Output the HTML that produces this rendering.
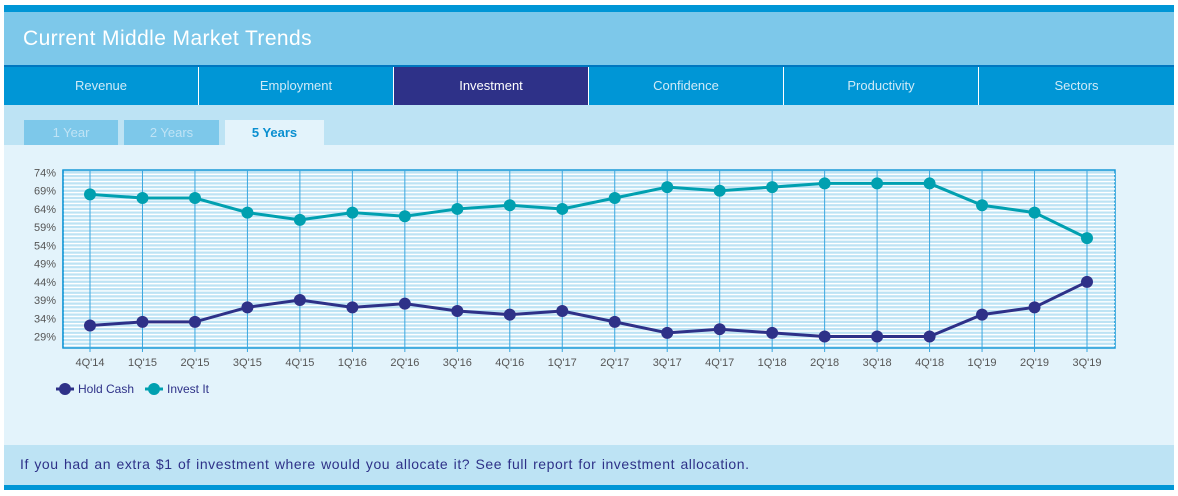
<!DOCTYPE html>
<html><head><meta charset="utf-8"><style>
body{margin:0;width:1178px;height:496px;background:#fff;font-family:"Liberation Sans",sans-serif;position:relative;overflow:hidden}
.abs{position:absolute}
.tab{position:absolute;top:67px;height:38px;line-height:38px;text-align:center;color:#cfeaf7;font-size:13px;background:#0096d6;border-right:1px solid #fff;box-sizing:border-box}
.sub{position:absolute;top:120px;height:25px;line-height:25px;text-align:center;font-size:13px;color:#bfe3f5;background:#7dc8ea}
</style></head><body>
<div class="abs" style="left:4px;top:5px;width:1170px;height:7px;background:#0096d6"></div>
<div class="abs" style="left:4px;top:12px;width:1170px;height:53px;background:#7dc8ea"></div>
<div class="abs" style="left:23px;top:27px;color:#fff;font-size:21px;letter-spacing:0.4px">Current Middle Market Trends</div>
<div class="abs" style="left:4px;top:65px;width:1170px;height:3px;background:#0077c0"></div>
<div class="tab" style="left:4px;width:195px">Revenue</div>
<div class="tab" style="left:199px;width:195px">Employment</div>
<div class="tab" style="left:394px;width:195px;background:#2e3188;color:#fff">Investment</div>
<div class="tab" style="left:589px;width:195px">Confidence</div>
<div class="tab" style="left:784px;width:195px">Productivity</div>
<div class="tab" style="left:979px;width:195px;border-right:none">Sectors</div>
<div class="abs" style="left:4px;top:105px;width:1170px;height:40px;background:#bde3f4"></div>
<div class="sub" style="left:24px;width:94px">1 Year</div>
<div class="sub" style="left:124px;width:95px">2 Years</div>
<div class="sub" style="left:225px;width:99px;background:#e3f3fb;color:#0a8fd0;font-weight:bold">5 Years</div>
<div class="abs" style="left:4px;top:145px;width:1170px;height:300px;background:#e3f3fb"></div>
<svg class="abs" style="left:0;top:0" width="1178" height="496" id="chart"></svg>
<div class="abs" style="left:4px;top:445px;width:1170px;height:40px;background:#bde3f4"></div>
<div class="abs" style="left:20px;top:456px;color:#2e3188;font-size:14px;letter-spacing:0.55px;word-spacing:1px">If you had an extra $1 of investment where would you allocate it? See full report for investment allocation.</div>
<div class="abs" style="left:4px;top:485px;width:1170px;height:5px;background:#0096d6"></div>
<script>
const categories=["4Q'14","1Q'15","2Q'15","3Q'15","4Q'15","1Q'16","2Q'16","3Q'16","4Q'16","1Q'17","2Q'17","3Q'17","4Q'17","1Q'18","2Q'18","3Q'18","4Q'18","1Q'19","2Q'19","3Q'19"];
const investIt=[68,67,67,63,61,63,62,64,65,64,67,70,69,70,71,71,71,65,63,56];
const holdCash=[32,33,33,37,39,37,38,36,35,36,33,30,31,30,29,29,29,35,37,44];
const yTicks=[74,69,64,59,54,49,44,39,34,29];
const NS="http://www.w3.org/2000/svg";
const svg=document.getElementById('chart');
const L=63,R=1115,T=170,B=348;
const x=i=>90+i*(1087-90)/(categories.length-1);
const y=v=>172.5+(74-v)*3.644;
function mk(t,a,p){const e=document.createElementNS(NS,t);for(const k in a)e.setAttribute(k,a[k]);(p||svg).appendChild(e);return e;}
const bg=mk('rect',{x:L,y:T,width:R-L,height:B-T,fill:'#bde3f4',stroke:'#1a9ad8','stroke-width':1.5});


for(let v=25;v<=75;v+=1){const yy=y(v)+1.8;if(yy>T+1&&yy<B-1)mk('line',{x1:L,x2:R,y1:yy,y2:yy,stroke:'#fff','stroke-width':1.4});}
categories.forEach((c,i)=>{
 const g=mk('line',{x1:x(i),x2:x(i),y1:T,y2:B+4,stroke:'#3aa7e0','stroke-width':1});
 
 
 const t=mk('text',{x:x(i),y:366,'text-anchor':'middle','font-size':11,fill:'#555'});t.textContent=c;
 
 
});
yTicks.forEach(v=>{
 const t=mk('text',{x:56,y:y(v)+4,'text-anchor':'end','font-size':11,fill:'#555'});t.textContent=v+'%';
 
 
});
mk('line',{x1:L,x2:L,y1:T,y2:B,stroke:'#1a9ad8','stroke-width':1.5});
function series(vals,color,name){
 const pl=mk('polyline',{points:vals.map((v,i)=>x(i)+','+y(v)).join(' '),fill:'none',stroke:color,'stroke-width':3});
 
 
 vals.forEach((v,i)=>{const c=mk('circle',{cx:x(i),cy:y(v),r:6,fill:color});
  
  });
}
series(investIt,'#00a0b0','invest-it');
series(holdCash,'#2e3188','hold-cash');
function legend(lx,color,label,name){
 mk('line',{x1:lx-9,x2:lx+9,y1:389,y2:389,stroke:color,'stroke-width':3});
 mk('circle',{cx:lx,cy:389,r:6,fill:color});
 const t=mk('text',{x:lx+13,y:393,'font-size':12,fill:'#2e3188'});t.textContent=label;
 
 
}
legend(65,'#2e3188','Hold Cash','legend-hold-cash');
legend(154,'#00a0b0','Invest It','legend-invest-it');
</script>
</body></html>
